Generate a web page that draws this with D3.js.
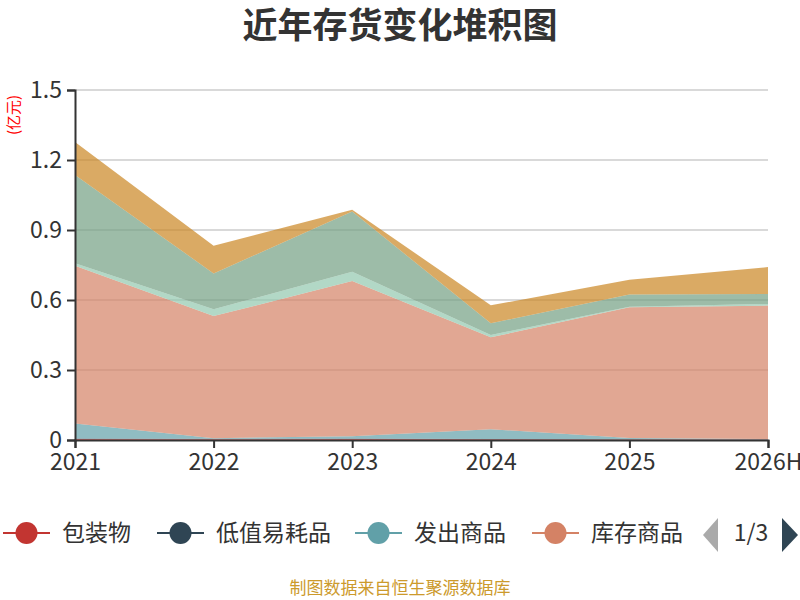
<!DOCTYPE html>
<html>
<head>
<meta charset="utf-8">
<script src="https://cdn.jsdelivr.net/npm/d3@7"></script>
<style>
  body { margin: 0; background: #fff; }
  text { font-family: "Noto Sans CJK SC", "Noto Sans", sans-serif; }
</style>
</head>
<body>
<div id="chart"></div>
<script>
// data (亿元)
const years = ["2021", "2022", "2023", "2024", "2025", "2026H"];
const seriesNames = ["包装物", "低值易耗品", "发出商品", "库存商品", "委托加工物资", "原材料", "在产品"];
const baozhuang  = [0.004, 0.003, 0.004, 0.003, 0.002, 0.002];
const dizhi      = [0.002, 0.002, 0.002, 0.001, 0.001, 0.001];
const fachu      = [0.065, 0.003, 0.010, 0.042, 0.006, 0.001];
const kucun      = [0.676, 0.523, 0.665, 0.394, 0.560, 0.572];
const weituo     = [0.011, 0.029, 0.040, 0.010, 0.002, 0.007];
const yuancailiao = [0.378, 0.154, 0.258, 0.050, 0.053, 0.043];
const zaichanpin = [0.141, 0.119, 0.008, 0.077, 0.063, 0.115];
const yTicks = [0, 0.3, 0.6, 0.9, 1.2, 1.5];
const colors = ["#c23531", "#2f4554", "#61a0a8", "#d48265", "#91c7ae", "#749f83", "#ca8622"];
const legendPage = "1/3";

const allValues = [baozhuang, dizhi, fachu, kucun, weituo, yuancailiao, zaichanpin];
const table = years.map((y, i) => {
    const row = { year: y };
    seriesNames.forEach((n, k) => row[n] = allValues[k][i]);
    return row;
});

const W = 800, H = 600;
const margin = { top: 90, right: 32, bottom: 160, left: 75 },
      width = W - margin.left - margin.right,
      height = H - margin.top - margin.bottom;

const root = d3.select("#chart").append("svg")
    .attr("width", W).attr("height", H);

// title
root.append("text")
    .attr("x", W / 2).attr("y", 38)
    .attr("text-anchor", "middle")
    .attr("font-size", 35).attr("font-weight", "bold")
    .attr("fill", "#333")
    .text("近年存货变化堆积图");

const svg = root.append("g")
    .attr("transform", `translate(${margin.left},${margin.top})`);

const xScale = d3.scalePoint().domain(years).range([0, width]);
const yScale = d3.scaleLinear().domain([0, 1.5]).range([height, 0]);

// grid
svg.append("g")
   .selectAll("line")
   .data(yTicks.slice(1))
   .join("line")
   .attr("x1", 0).attr("x2", width)
   .attr("y1", d => yScale(d)).attr("y2", d => yScale(d))
   .attr("stroke", "#ccc").attr("stroke-width", 1.5);

// stacked areas
const stack = d3.stack().keys(seriesNames);
const layers = stack(table);
const area = d3.area()
    .x(d => xScale(d.data.year))
    .y0(d => yScale(d[0]))
    .y1(d => yScale(d[1]));

svg.append("g")
   .selectAll("path")
   .data(layers)
   .join("path")
   .attr("d", area)
   .attr("fill", (d, i) => colors[i])
   .attr("fill-opacity", 0.7);

// y axis
const yAxis = svg.append("g")
   .call(d3.axisLeft(yScale).tickValues(yTicks).tickSize(8).tickPadding(5)
        .tickFormat(d => d === 0 ? "0" : d.toFixed(1)));
yAxis.select(".domain").attr("stroke", "#333").attr("stroke-width", 2);
yAxis.selectAll(".tick line").attr("stroke", "#333").attr("stroke-width", 2);
yAxis.selectAll(".tick text").attr("font-size", 23).attr("fill", "#333")
     .attr("font-family", "'Noto Sans', sans-serif");

// x axis
const xAxis = svg.append("g")
   .attr("transform", `translate(0,${height})`)
   .call(d3.axisBottom(xScale).tickSize(8).tickPadding(6));
xAxis.select(".domain").attr("stroke", "#333").attr("stroke-width", 2);
xAxis.selectAll(".tick line").attr("stroke", "#333").attr("stroke-width", 2);
xAxis.selectAll(".tick text").attr("font-size", 23).attr("fill", "#333")
     .attr("font-family", "'Noto Sans', sans-serif");

// unit label
root.append("text")
    .attr("transform", "translate(19,115) rotate(-90)")
    .attr("text-anchor", "middle")
    .attr("font-size", 15).attr("fill", "red")
    .text("(亿元)");

// legend (first page only, last label cut by the pager)
const legendX = [3, 157, 355, 532];
root.append("clipPath").attr("id", "legclip")
    .append("rect").attr("x", 0).attr("y", 505).attr("width", 684).attr("height", 60);
const legend = root.append("g").attr("clip-path", "url(#legclip)")
    .append("g").attr("transform", "translate(0,533)");
const items = legend.selectAll("g")
    .data(seriesNames.slice(0, 4))
    .join("g")
    .attr("transform", (d, i) => `translate(${legendX[i]},0)`);
items.append("line")
    .attr("x1", 0).attr("x2", 47)
    .attr("stroke", (d, i) => colors[i]).attr("stroke-width", 2);
items.append("circle")
    .attr("cx", 23.5).attr("r", 11)
    .attr("fill", (d, i) => colors[i]);
items.append("text")
    .attr("x", 59).attr("y", 8)
    .attr("font-size", 23).attr("fill", "#333")
    .text(d => d);

// pager
root.append("path")
    .attr("d", "M718,518 L703,535 L718,552 Z")
    .attr("fill", "#aaa");
root.append("text")
    .attr("x", 751).attr("y", 541)
    .attr("text-anchor", "middle")
    .attr("font-size", 23).attr("fill", "#333")
    .attr("font-family", "'Noto Sans', sans-serif")
    .text(legendPage);
root.append("path")
    .attr("d", "M782,518 L798,535 L782,552 Z")
    .attr("fill", "#2f4554");

// footer
root.append("text")
    .attr("x", 400).attr("y", 594)
    .attr("text-anchor", "middle")
    .attr("font-size", 17).attr("fill", "#cc9a2c")
    .text("制图数据来自恒生聚源数据库");
</script>
</body>
</html>
